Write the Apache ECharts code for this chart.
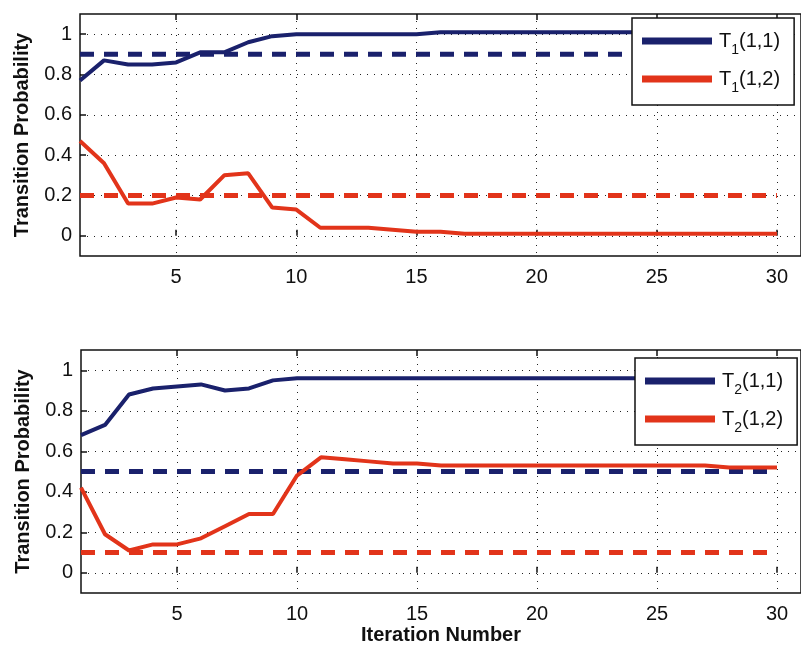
<!DOCTYPE html>
<html>
<head>
<meta charset="utf-8">
<script src="https://cdn.jsdelivr.net/npm/echarts@6/dist/echarts.min.js"></script>
<style>
  html, body { margin: 0; padding: 0; background: #fff; }
  #main { width: 801px; height: 650px; }
</style>
</head>
<body>
<div id="main"></div>
<script>
// Iterations 1..30
const iterations = [1, 2, 3, 4, 5, 6, 7, 8, 9, 10, 11, 12, 13, 14, 15,
  16, 17, 18, 19, 20, 21, 22, 23, 24, 25, 26, 27, 28, 29, 30];

// Top panel (T1)
const t1Stay = [0.77, 0.87, 0.85, 0.85, 0.86, 0.91, 0.91, 0.96, 0.99, 1.0,
  1.0, 1.0, 1.0, 1.0, 1.0, 1.01, 1.01, 1.01, 1.01, 1.01,
  1.01, 1.01, 1.01, 1.01, 1.01, 1.01, 1.01, 1.01, 1.01, 1.01];
const t1Move = [0.47, 0.36, 0.16, 0.16, 0.19, 0.18, 0.30, 0.31, 0.14, 0.13,
  0.04, 0.04, 0.04, 0.03, 0.02, 0.02, 0.01, 0.01, 0.01, 0.01,
  0.01, 0.01, 0.01, 0.01, 0.01, 0.01, 0.01, 0.01, 0.01, 0.01];
const t1StayTrue = 0.9;
const t1MoveTrue = 0.2;

// Bottom panel (T2)
const t2Stay = [0.68, 0.73, 0.88, 0.91, 0.92, 0.93, 0.90, 0.91, 0.95, 0.96,
  0.96, 0.96, 0.96, 0.96, 0.96, 0.96, 0.96, 0.96, 0.96, 0.96,
  0.96, 0.96, 0.96, 0.96, 0.96, 0.96, 0.96, 0.96, 0.96, 0.96];
const t2Move = [0.42, 0.19, 0.11, 0.14, 0.14, 0.17, 0.23, 0.29, 0.29, 0.48,
  0.57, 0.56, 0.55, 0.54, 0.54, 0.53, 0.53, 0.53, 0.53, 0.53,
  0.53, 0.53, 0.53, 0.53, 0.53, 0.53, 0.53, 0.52, 0.52, 0.52];
const t2StayTrue = 0.5;
const t2MoveTrue = 0.1;

const xTicks = [5, 10, 15, 20, 25, 30];
const yTicks = [0, 0.2, 0.4, 0.6, 0.8, 1];

const BLUE = '#1a216c';
const RED = '#e2341a';
const FONT = "'Liberation Sans', Arial, sans-serif";

const pairs = (vals) => iterations.map((x, i) => [x, vals[i]]);
const flat = (v) => iterations.map((x) => [x, v]);

const grids = [
  { left: 80, top: 14, width: 722, height: 242 },
  { left: 81, top: 350, width: 722, height: 243 }
];

const dotted = { color: '#222', width: 1, type: [1, 6] };

const makeX = (gi, showName) => [
  {
    type: 'value', gridIndex: gi, min: 1, max: 31, position: 'bottom',
    name: showName ? 'Iteration Number' : '',
    nameLocation: 'middle', nameGap: 32,
    nameTextStyle: { fontFamily: FONT, fontSize: 20, fontWeight: 'bold', color: '#111' },
    axisLine: { show: false },
    axisTick: { show: true, inside: true, length: 6, lineStyle: { color: '#111', width: 1.5 }, customValues: xTicks },
    axisLabel: { customValues: xTicks, margin: 11, fontFamily: FONT, fontSize: 20, color: '#111' },
    splitLine: { show: true, lineStyle: dotted }
  },
  {
    type: 'value', gridIndex: gi, min: 1, max: 31, position: 'top',
    axisLine: { show: false },
    axisTick: { show: true, inside: true, length: 6, lineStyle: { color: '#111', width: 1.5 }, customValues: xTicks },
    axisLabel: { show: false },
    splitLine: { show: false }
  }
];

const makeY = (gi) => ({
  type: 'value', gridIndex: gi, min: -0.1, max: 1.1,
  name: 'Transition Probability',
  nameLocation: 'middle', nameGap: 48,
  nameTextStyle: { fontFamily: FONT, fontSize: 20, fontWeight: 'bold', color: '#111' },
  axisLine: { show: false },
  axisTick: { show: true, inside: true, length: 6, lineStyle: { color: '#111', width: 1.5 }, customValues: yTicks },
  axisLabel: { customValues: yTicks, margin: 8, fontFamily: FONT, fontSize: 20, color: '#111' },
  splitLine: { show: true, lineStyle: dotted }
});

const line = (name, data, xi, yi, color, dashed) => ({
  name: name,
  type: 'line',
  xAxisIndex: xi,
  yAxisIndex: yi,
  data: data,
  symbol: 'none',
  silent: true,
  animation: false,
  z: dashed ? 2 : 3,
  itemStyle: { color: color },
  lineStyle: dashed
    ? { color: color, width: 5, type: [14, 10] }
    : { color: color, width: 4 }
});

const legendRich = {
  a: { fontFamily: FONT, fontSize: 20, color: '#111' },
  b: { fontFamily: FONT, fontSize: 14, color: '#111', padding: [18, 0, 0, 0] }
};
const legendFmt = (name) => {
  const m = name.match(/^T(\d)(.*)$/);
  return '{a|T}{b|' + m[1] + '}{a|' + m[2] + '}';
};

const makeLegend = (names, top, left) => ({
  data: names,
  orient: 'vertical',
  left: left,
  top: top,
  itemWidth: 70,
  itemHeight: 7,
  icon: 'rect',
  itemGap: 12,
  padding: [13, 14, 10, 10],
  borderColor: '#111',
  borderWidth: 1.5,
  backgroundColor: '#fff',
  formatter: legendFmt,
  textStyle: { rich: legendRich, padding: [0, 0, 0, 2] },
  selectedMode: false
});

const option = {
  animation: false,
  grid: grids.map((g) => ({ ...g, show: true, borderColor: '#111', borderWidth: 1.5, backgroundColor: 'transparent' })),
  xAxis: [...makeX(0, false), ...makeX(1, true)],
  yAxis: [makeY(0), makeY(1)],
  legend: [
    makeLegend(['T1(1,1)', 'T1(1,2)'], 18, 632),
    makeLegend(['T2(1,1)', 'T2(1,2)'], 358, 635)
  ],
  series: [
    line('T1 true stay', flat(t1StayTrue), 0, 0, BLUE, true),
    line('T1 true move', flat(t1MoveTrue), 0, 0, RED, true),
    line('T1(1,1)', pairs(t1Stay), 0, 0, BLUE, false),
    line('T1(1,2)', pairs(t1Move), 0, 0, RED, false),
    line('T2 true stay', flat(t2StayTrue), 2, 1, BLUE, true),
    line('T2 true move', flat(t2MoveTrue), 2, 1, RED, true),
    line('T2(1,1)', pairs(t2Stay), 2, 1, BLUE, false),
    line('T2(1,2)', pairs(t2Move), 2, 1, RED, false)
  ]
};

const chart = echarts.init(document.getElementById('main'), null, { renderer: 'canvas' });
chart.setOption(option);
</script>
</body>
</html>
